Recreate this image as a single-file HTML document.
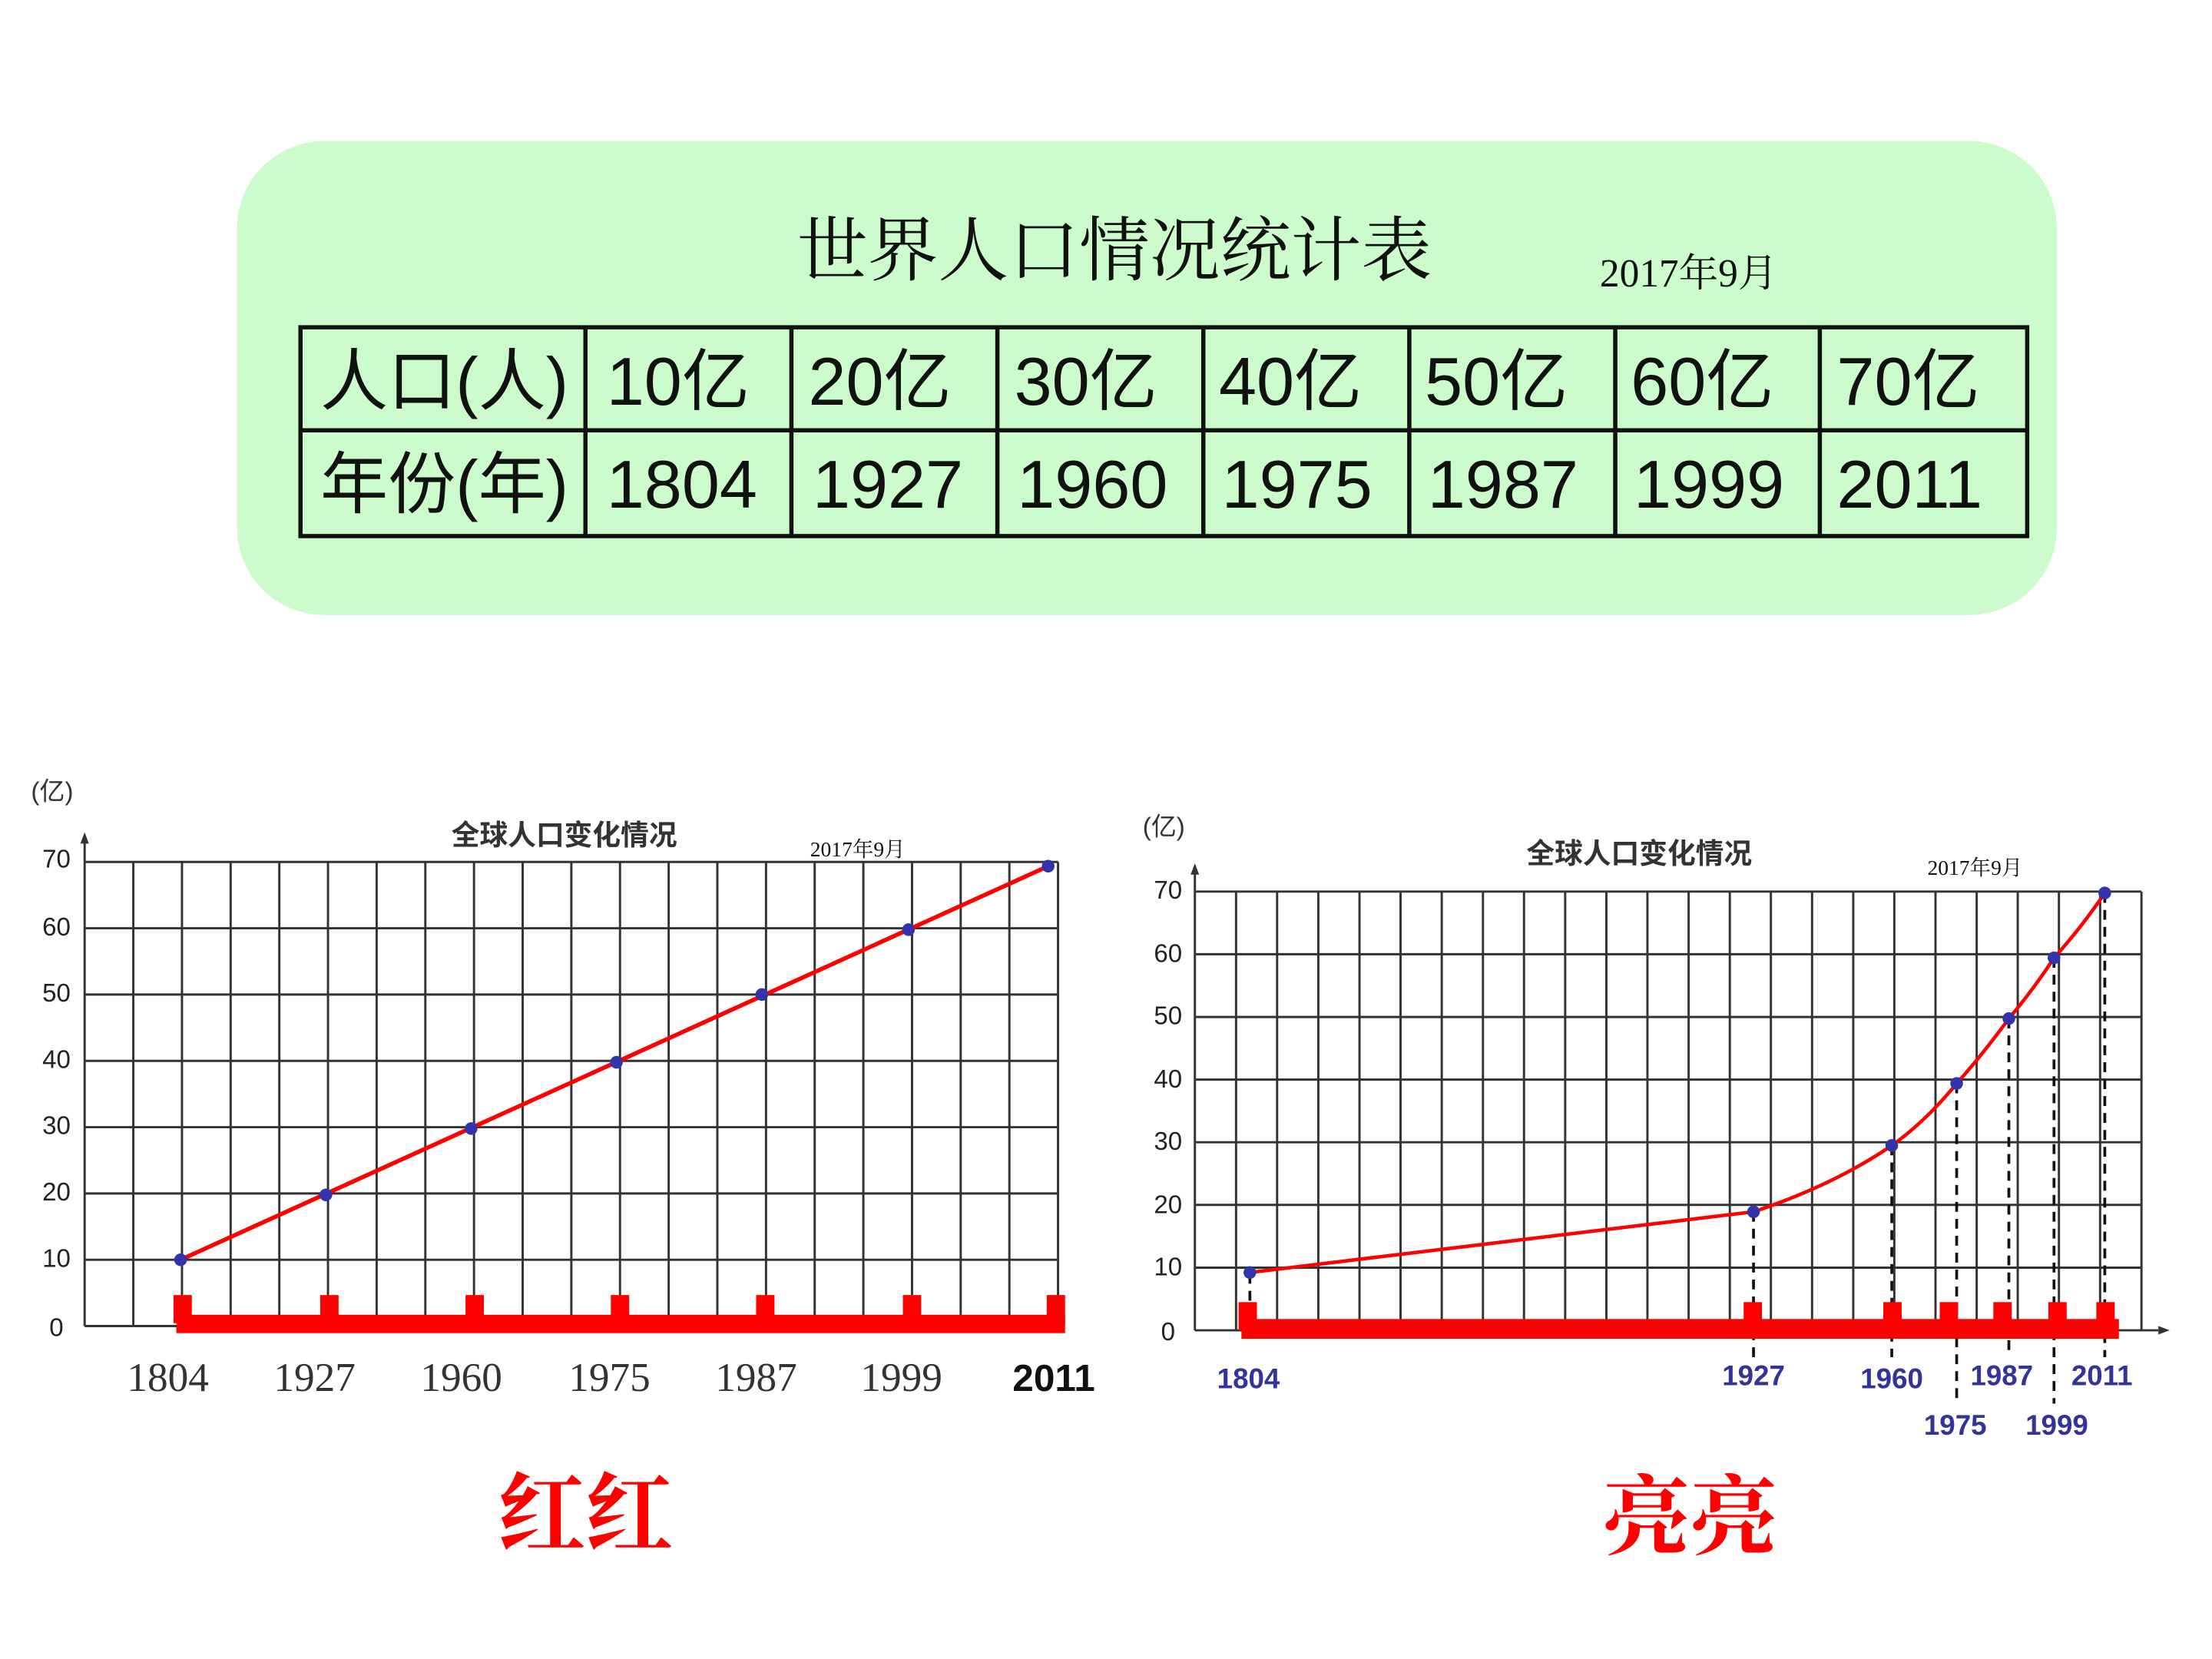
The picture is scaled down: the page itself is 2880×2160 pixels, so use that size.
<!DOCTYPE html>
<html><head><meta charset="utf-8"><style>
html,body{margin:0;padding:0;background:#fff}
svg{display:block}
text{font-family:"Liberation Sans","Noto Sans CJK SC",sans-serif}
.s{font-family:"Liberation Serif","Noto Serif CJK SC",serif}
</style></head><body>
<svg width="2880" height="2160" viewBox="0 0 1568 1176" xmlns="http://www.w3.org/2000/svg">
<rect x="168" y="100" width="1290" height="336" rx="62" fill="#ccfccc"/>
<text x="790" y="195" font-size="50" text-anchor="middle" class="s" fill="#111">世界人口情况统计表</text>
<text x="1197" y="203" font-size="28" text-anchor="middle" class="s" fill="#111">2017年9月</text>
<g stroke="#111" stroke-width="3" fill="none">
<rect x="213" y="232" width="1224" height="148"/>
<line x1="213" y1="305" x2="1437" y2="305"/>
<line x1="415" y1="232" x2="415" y2="380"/><line x1="561" y1="232" x2="561" y2="380"/>
<line x1="707" y1="232" x2="707" y2="380"/><line x1="853" y1="232" x2="853" y2="380"/>
<line x1="999" y1="232" x2="999" y2="380"/><line x1="1145" y1="232" x2="1145" y2="380"/>
<line x1="1290" y1="232" x2="1290" y2="380"/>
</g>
<g font-size="48" fill="#111">
<text x="227" y="287">人口(人)</text><text x="430" y="287">10亿</text><text x="573" y="287">20亿</text><text x="719" y="287">30亿</text><text x="864" y="287">40亿</text><text x="1010" y="287">50亿</text><text x="1156" y="287">60亿</text><text x="1302" y="287">70亿</text>
<text x="227" y="360">年份(年)</text><text x="430" y="360">1804</text><text x="576" y="360">1927</text><text x="721" y="360">1960</text><text x="866" y="360">1975</text><text x="1012" y="360">1987</text><text x="1158" y="360">1999</text><text x="1302" y="360">2011</text>
</g>

<!-- Left chart -->
<g stroke="#333" stroke-width="1.6">
<line x1="60" y1="611" x2="750" y2="611"/><line x1="60" y1="658" x2="750" y2="658"/><line x1="60" y1="705" x2="750" y2="705"/><line x1="60" y1="752" x2="750" y2="752"/><line x1="60" y1="799" x2="750" y2="799"/><line x1="60" y1="846" x2="750" y2="846"/><line x1="60" y1="893" x2="750" y2="893"/><line x1="60" y1="940" x2="750" y2="940"/>
<path d="M94.5 611V940M129 611V940M163.5 611V940M198 611V940M232.5 611V940M267 611V940M301.5 611V940M336 611V940M370.5 611V940M405 611V940M439.5 611V940M474 611V940M508.5 611V940M543 611V940M577.5 611V940M612 611V940M646.5 611V940M681 611V940M715.5 611V940M750 611V940"/>
<line x1="60" y1="595" x2="60" y2="940"/>
</g>
<path d="M57 598L60 590L63 598Z" fill="#333"/>
<rect x="125" y="932" width="630" height="13" fill="#f00"/>
<g fill="#f00"><rect x="123" y="918" width="13" height="20"/><rect x="227" y="918" width="13" height="20"/><rect x="330" y="918" width="13" height="20"/><rect x="433" y="918" width="13" height="20"/><rect x="536" y="918" width="13" height="20"/><rect x="640" y="918" width="13" height="20"/><rect x="742" y="918" width="13" height="20"/></g>
<line x1="128" y1="893" x2="743" y2="614" stroke="#f00" stroke-width="3"/>
<g fill="#33a"><circle cx="128" cy="893" r="4.5"/><circle cx="231" cy="847" r="4.5"/><circle cx="334" cy="800" r="4.5"/><circle cx="437" cy="753" r="4.5"/><circle cx="540" cy="705" r="4.5"/><circle cx="644" cy="659" r="4.5"/><circle cx="743" cy="614" r="4.5"/></g>
<g font-size="18" fill="#222" text-anchor="end"><text x="50" y="615">70</text><text x="50" y="663">60</text><text x="50" y="710">50</text><text x="50" y="757">40</text><text x="50" y="804">30</text><text x="50" y="851">20</text><text x="50" y="898">10</text><text x="45" y="947">0</text></g>
<text x="22" y="567" font-size="18" fill="#333">(亿)</text>
<text x="400" y="599" font-size="20" font-weight="bold" text-anchor="middle" fill="#333">全球人口变化情况</text>
<text x="608" y="607" font-size="15" text-anchor="middle" class="s" fill="#111">2017年9月</text>
<g font-size="29" class="s" fill="#333" text-anchor="middle"><text x="119" y="986" class="s">1804</text><text x="223" y="986" class="s">1927</text><text x="327" y="986" class="s">1960</text><text x="432" y="986" class="s">1975</text><text x="536" y="986" class="s">1987</text><text x="639" y="986" class="s">1999</text></g>
<text x="747" y="986" font-size="27" font-weight="bold" text-anchor="middle" fill="#111">2011</text>

<!-- Right chart -->
<g stroke="#333" stroke-width="1.6">
<path d="M847 632H1518M847 676.4H1518M847 720.9H1518M847 765.3H1518M847 809.7H1518M847 854.1H1518M847 898.6H1518M847 943H1530"/>
<path d="M876.2 632V943M905.3 632V943M934.5 632V943M963.7 632V943M992.8 632V943M1022 632V943M1051.2 632V943M1080.3 632V943M1109.5 632V943M1138.7 632V943M1167.8 632V943M1197 632V943M1226.2 632V943M1255.3 632V943M1284.5 632V943M1313.7 632V943M1342.8 632V943M1372 632V943M1401.2 632V943M1430.3 632V943M1459.5 632V943M1488.7 632V943M1518 632V943"/>
<line x1="847" y1="616" x2="847" y2="943"/>
</g>
<path d="M844 620L847 612L850 620Z M1530 940L1538 943L1530 946Z" fill="#333"/>
<g stroke="#111" stroke-width="2" stroke-dasharray="7,5">
<path d="M886 903V935M1243 859V962M1341 812V962M1387 768V995M1424 722V962M1456 679V995M1492 633V962"/>
</g>
<rect x="880" y="935" width="622" height="14" fill="#f00"/>
<g fill="#f00"><rect x="878" y="923" width="13" height="20"/><rect x="1236" y="923" width="13" height="20"/><rect x="1335" y="923" width="13" height="20"/><rect x="1375" y="923" width="13" height="20"/><rect x="1413" y="923" width="13" height="20"/><rect x="1452" y="923" width="13" height="20"/><rect x="1486" y="923" width="13" height="20"/></g>
<path d="M886 902L1243 859Q1300 840 1341 812Q1365 795 1387 768Q1405 748 1424 722Q1441 702 1456 679Q1475 658 1492 633" stroke="#f00" stroke-width="2.5" fill="none"/>
<g fill="#33a"><circle cx="886" cy="902" r="4.5"/><circle cx="1243" cy="859" r="4.5"/><circle cx="1341" cy="812" r="4.5"/><circle cx="1387" cy="768" r="4.5"/><circle cx="1424" cy="722" r="4.5"/><circle cx="1456" cy="679" r="4.5"/><circle cx="1492" cy="633" r="4.5"/></g>
<g font-size="18" fill="#222" text-anchor="end"><text x="838" y="637">70</text><text x="838" y="682">60</text><text x="838" y="726">50</text><text x="838" y="771">40</text><text x="838" y="815">30</text><text x="838" y="860">20</text><text x="838" y="904">10</text><text x="833" y="950">0</text></g>
<text x="810" y="592" font-size="18" fill="#333">(亿)</text>
<text x="1162" y="612" font-size="20" font-weight="bold" text-anchor="middle" fill="#333">全球人口变化情况</text>
<text x="1400" y="620" font-size="15" text-anchor="middle" class="s" fill="#111">2017年9月</text>
<g font-size="20" font-weight="bold" fill="#333399" text-anchor="middle"><text x="885" y="984">1804</text><text x="1243" y="982">1927</text><text x="1341" y="984">1960</text><text x="1419" y="982">1987</text><text x="1490" y="982">2011</text><text x="1386" y="1017">1975</text><text x="1458" y="1017">1999</text></g>

<g font-size="62" font-weight="bold" fill="#f00" text-anchor="middle" class="s"><text x="415" y="1095" class="s">红红</text><text x="1198" y="1097" class="s">亮亮</text></g>
</svg>
</body></html>
